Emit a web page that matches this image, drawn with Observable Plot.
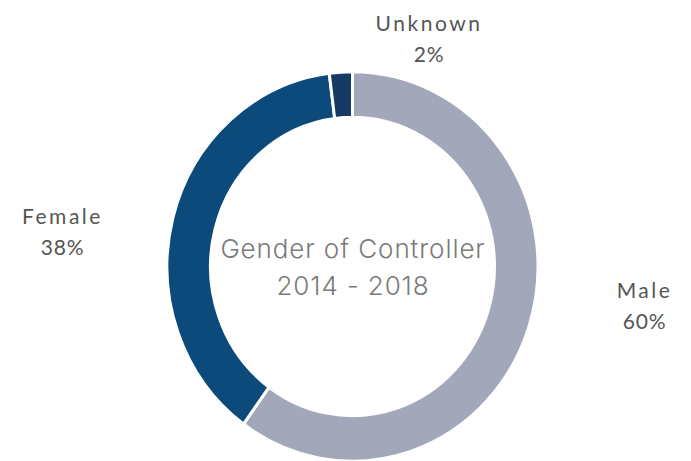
<!DOCTYPE html>
<html>
<head>
<meta charset="utf-8">
<script src="https://cdn.jsdelivr.net/npm/d3@7"></script>
<script src="https://cdn.jsdelivr.net/npm/@observablehq/plot@0.6"></script>
<style>
  html, body { margin: 0; padding: 0; background: #fff; }
  #chart { width: 691px; height: 461px; overflow: hidden; }
</style>
</head>
<body>
<div id="chart"></div>
<script>
// ---- data ----
const categories = ["Male", "Female", "Unknown"];
const shares = [60, 38, 2];
const colors = ["#a2a8b9", "#0b4a7b", "#163a63"];
const centerTitle = ["Gender of Controller", "2014 - 2018"];

// ---- layout (not data) ----
const W = 691, H = 461;
const cx = 352.5, cy = 266.5;          // donut centre in scale units (pixels)
const rOuter = 185.5, rInner = 142, yStretch = 1.05;
// label anchors (first-line baseline) for each category (Male, Female, Unknown)
const labelPos = [[644, 297], [62, 223], [428.5, 30]];
const labelGap = 31;

const table = categories.map((c, i) => ({
  category: c, share: shares[i], color: colors[i],
  lx: labelPos[i][0], ly: labelPos[i][1], ly2: labelPos[i][1] + labelGap
}));

const pie = d3.pie().sort(null).value(d => d.share);
const arcs = pie(table);

function donut(a, b) {
  const scales = (a && typeof a.x === "function") ? a : b;
  const X = scales.x, Y = scales.y;
  const g = d3.create("svg:g")
    .attr("transform", `translate(${X(cx)},${Y(cy)}) scale(1,${yStretch})`);
  const arcGen = d3.arc().innerRadius(rInner).outerRadius(rOuter);
  g.selectAll("path").data(arcs).join("path")
    .attr("d", arcGen)
    .attr("fill", d => d.data.color)
    .attr("stroke", "#fff")
    .attr("stroke-width", 3)
    .attr("stroke-linejoin", "miter");
  return g.node();
}

const labelStyle = {
  lineAnchor: "bottom",
  fontSize: 21,
  fontFamily: "Lato, 'Noto Sans', sans-serif",
  fill: "#555555"
};
const titleStyle = {
  lineAnchor: "bottom",
  fontSize: 26,
  fontWeight: 300,
  fontFamily: "Inter, 'Open Sans', sans-serif",
  fill: "#7a7a7a"
};

const plot = Plot.plot({
  width: W, height: H,
  margin: 0,
  x: { domain: [0, W], range: [0, W], axis: null },
  y: { domain: [0, H], range: [0, H], axis: null },
  style: { background: "#fff" },
  marks: [
    donut,
    Plot.text(table, { x: "lx", y: "ly", text: "category", ...labelStyle }),
    Plot.text(table, { x: "lx", y: "ly2", text: d => `${d.share}%`, ...labelStyle }),
    Plot.text([centerTitle[0]], { x: [cx], y: [257], text: d => d, ...titleStyle }),
    Plot.text([centerTitle[1]], { x: [cx], y: [294], text: d => d, ...titleStyle })
  ]
});

// letter spacing (not a Plot text option) applied to the rendered text
d3.select(plot).selectAll("text").each(function () {
  const fs = +(this.getAttribute("font-size") || this.parentNode.getAttribute("font-size"));
  const isPct = /%$/.test(this.textContent);
  d3.select(this).attr("letter-spacing", fs === 21 ? (isPct ? "0.04em" : "0.12em") : "0.035em");
});

document.getElementById("chart").appendChild(plot);
</script>
</body>
</html>
